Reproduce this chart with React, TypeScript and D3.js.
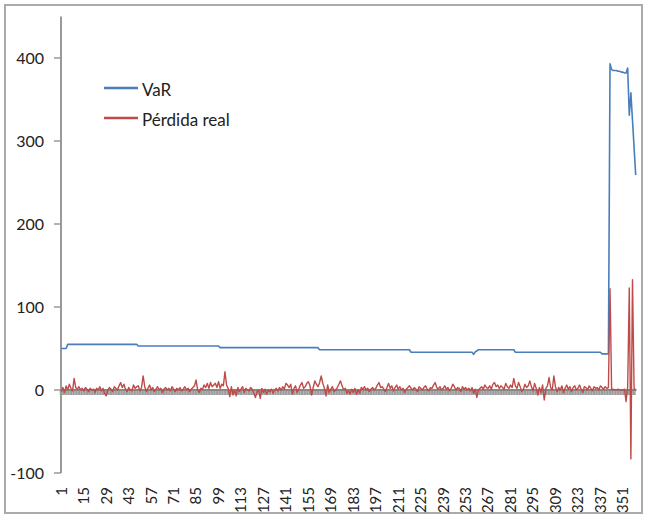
import React from "react";
import * as d3 from "d3";

// VaR is a step series: [value, number of consecutive days]
const varRuns: [number, number][] = [
  [50, 4], [55, 44], [53, 51], [51, 62], [48.5, 57], [45.5, 39],
  [43, 1], [46, 1], [47, 1], [48.5, 23], [45.5, 54], [43.5, 5],
  [393, 1], [386, 1], [385, 3], [384, 2], [383, 2], [382, 2],
  [388, 1], [331, 1], [358, 1], [325, 1], [292, 1], [259, 1],
];

// Daily realised loss ("Pérdida real")
const perdidaReal: number[] = [
  -2, 3, -3, 5, 0, 7, 2, -1, 14, 3, 1, 4, 0, 2, -1, 3, 1, -2, 2, 0,
  1, -3, 2, 0, 4, -1, 2, -4, -7, 0, 3, 1, -2, 4, 2, 0, 5, 9, 3, 7,
  1, -2, 3, 0, -1, 6, 2, 4, 5, -1, 3, 17, 4, -2, 2, 6, 0, 3, -2, 1,
  4, 0, 2, -3, 1, 3, 0, 2, -1, 4, 1, -2, 2, 0, 3, -1, 1, 4, 0, 2,
  -2, 1, 3, 5, 12, 0, -3, 2, 1, 6, 3, 8, 2, 9, 4, 6, 8, 3, 10, 2,
  7, 5, 22, 6, 2, -8, 4, -6, 0, -7, 3, -2, 1, 4, -3, 2, 0, -1, 3, 1,
  -4, -9, -2, 0, -10, 2, -3, 1, -5, 0, -2, 1, -4, 0, 2, -1, 3, 0, 4, 1,
  8, 6, 3, 7, -5, 2, 5, -3, 1, 6, 9, 2, 4, 8, 10, 5, -6, 3, 11, 7,
  4, 9, 17, 8, 2, -7, 6, -3, 1, 4, -2, 0, 3, 7, 11, 5, 0, 2, -4, -1,
  -5, 1, -3, 2, -5, 0, -4, 3, 1, 4, 0, 2, -2, 1, 3, 0, 2, 6, 9, 3,
  4, 1, -2, 3, 8, 2, 5, -1, 3, 6, 1, 4, 0, 2, -3, 1, 3, 5, 2, 0,
  3, 1, -2, 4, 2, 0, 3, 5, 1, -1, 3, 2, 6, 9, 3, 1, 4, 0, 2, 5,
  1, 3, -1, 2, 7, 4, 0, 3, 2, -2, 4, 1, 3, 0, 2, -1, 3, -4, 1, -9,
  0, 2, 4, 1, 6, 3, 2, 5, 1, 7, 9, 4, 6, 2, 5, 3, 1, 8, 4, 2,
  6, 3, 14, 5, 2, 9, 4, -2, 1, 7, 3, 5, 11, 4, -1, 8, 2, -6, 3, -3,
  6, -12, 2, 5, 15, 3, 0, 17, 4, -2, 3, 0, 5, -3, 2, 6, 1, 4, -2, 3,
  5, 0, 2, 6, 1, -3, 4, 3, 0, 5, 2, -1, 4, 2, 3, 0, 5, 3, 1, 4,
  2, 3, 122, 0, 1, 0, 0, 1, 0, 0, 0, 1, -14, 4, 123, -83, 133, 2, 0,
];

const yTicks = [-100, 0, 100, 200, 300, 400];
const labelStep = 14;
const seriesNames = ["VaR", "Pérdida real"];
const seriesColors = ["#4A7EBB", "#BE4B48"];

const valueAtRisk: number[] = varRuns.flatMap(([v, n]) => Array(n).fill(v));
const days: number[] = perdidaReal.map((_, i) => i + 1);

export default function App() {
  const width = 648;
  const height = 517;
  const font = "Lato, 'Open Sans', sans-serif";

  const x = d3
    .scaleBand<number>()
    .domain(days)
    .range([60.5, 636.5])
    .padding(0);
  const bw = x.bandwidth();
  const cx = (d: number) => (x(d) as number) + bw / 2;
  const y = d3.scaleLinear().domain([-100, 450]).range([473, 16.5]);

  const line = d3
    .line<number>()
    .x((_, i) => cx(days[i]))
    .y((v) => y(v));

  const y0 = y(0);
  const tickLabels = days.filter((d) => (d - 1) % labelStep === 0);

  return (
    <svg
      width={width}
      height={height}
      style={{ position: "absolute", left: 0, top: 0, background: "#fff" }}
    >
      <rect x={5} y={5} width={637} height={508} fill="#fff" stroke="#aaa" strokeWidth={2} />

      {/* value axis */}
      <line x1={61} x2={61} y1={y(450)} y2={y(-100)} stroke="#999" strokeWidth={2} />
      {yTicks.map((t) => (
        <g key={t}>
          <line x1={54} x2={61} y1={y(t)} y2={y(t)} stroke="#999" strokeWidth={1.5} />
          <text
            x={44}
            y={y(t)}
            dy="0.36em"
            textAnchor="end"
            fontFamily={font}
            fontSize={16}
            fill="#222"
          >
            {t}
          </text>
        </g>
      ))}

      {/* category axis crossing at zero, one tick per day (dense enough to read as a band) */}
      {days.map((d) => (
        <line
          key={d}
          x1={x(d) as number}
          x2={x(d) as number}
          y1={y0}
          y2={y0 + 5}
          stroke="#9c9c9c"
          strokeWidth={bw}
        />
      ))}
      <line x1={60.5} x2={636.5} y1={y0} y2={y0} stroke="#888" strokeWidth={2} />

      {tickLabels.map((d) => (
        <text
          key={d}
          transform={`translate(${cx(d)},487) rotate(-90)`}
          dy="0.36em"
          textAnchor="end"
          fontFamily={font}
          fontSize={15}
          fill="#222"
        >
          {d}
        </text>
      ))}

      {/* series */}
      <path d={line(valueAtRisk) || ""} fill="none" stroke={seriesColors[0]} strokeWidth={1.6} strokeLinejoin="round" />
      <path d={line(perdidaReal) || ""} fill="none" stroke={seriesColors[1]} strokeWidth={1.4} strokeLinejoin="round" />

      {/* legend */}
      {seriesNames.map((name, i) => (
        <g key={name} transform={`translate(104,${88 + i * 30})`}>
          <line x1={0} x2={34} y1={0} y2={0} stroke={seriesColors[i]} strokeWidth={2.5} />
          <text x={38} y={2} dy="0.36em" fontFamily={font} fontSize={17} fill="#222">
            {name}
          </text>
        </g>
      ))}
    </svg>
  );
}
